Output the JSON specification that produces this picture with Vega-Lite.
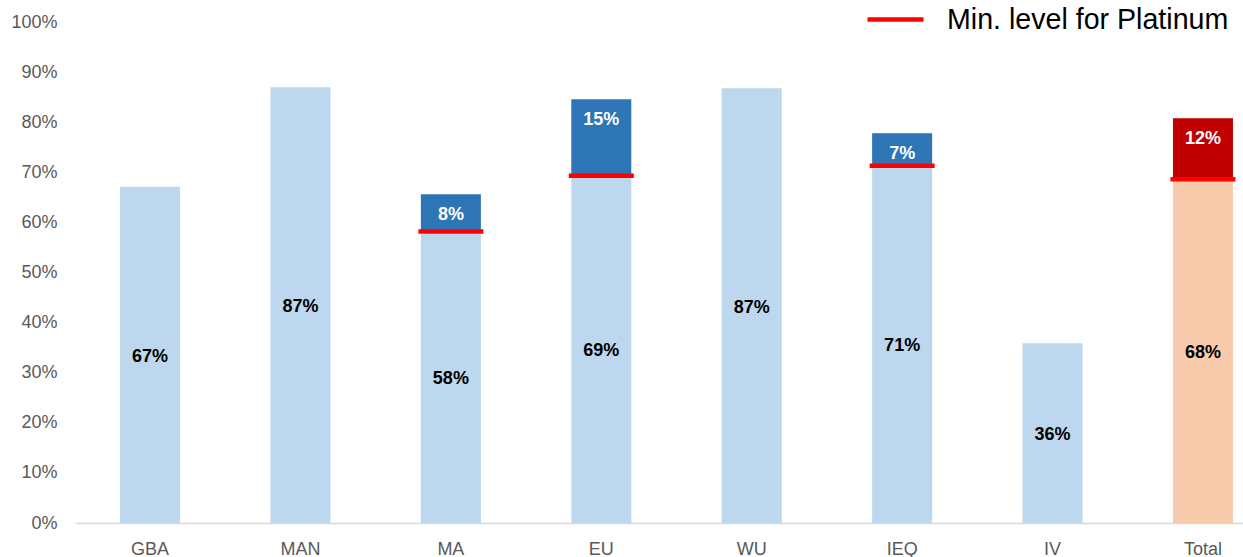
{
  "$schema": "https://vega.github.io/schema/vega-lite/v6.json",
  "autosize": "none",
  "padding": {"left": 75, "top": 22, "right": 0, "bottom": 34},
  "width": 1168,
  "height": 501,
  "background": "white",
  "config": {
    "view": {"stroke": null},
    "font": "Liberation Sans",
    "axis": {"labelFont": "Liberation Sans", "labelFontSize": 18, "labelColor": "#595959", "ticks": false, "grid": false, "title": null},
    "scale": {"bandPaddingInner": 0.601, "bandPaddingOuter": 0.183}
  },
  "data": {
    "values": [
      {"cat": "GBA", "kind": "credit", "base": 0.671, "baseLabel": "67%", "top": null, "topLabel": null, "min": null},
      {"cat": "MAN", "kind": "credit", "base": 0.870, "baseLabel": "87%", "top": null, "topLabel": null, "min": null},
      {"cat": "MA", "kind": "credit", "base": 0.582, "baseLabel": "58%", "top": 0.656, "topLabel": "8%", "min": 0.582},
      {"cat": "EU", "kind": "credit", "base": 0.693, "baseLabel": "69%", "top": 0.846, "topLabel": "15%", "min": 0.693},
      {"cat": "WU", "kind": "credit", "base": 0.868, "baseLabel": "87%", "top": null, "topLabel": null, "min": null},
      {"cat": "IEQ", "kind": "credit", "base": 0.713, "baseLabel": "71%", "top": 0.778, "topLabel": "7%", "min": 0.713},
      {"cat": "IV", "kind": "credit", "base": 0.359, "baseLabel": "36%", "top": null, "topLabel": null, "min": null},
      {"cat": "Total", "kind": "total", "base": 0.686, "baseLabel": "68%", "top": 0.808, "topLabel": "12%", "min": 0.686}
    ]
  },
  "encoding": {
    "x": {
      "field": "cat", "type": "nominal", "sort": null,
      "scale": {"align": 0.818},
      "axis": {"labelAngle": 0, "labelPadding": 17, "domainColor": "#d9d9d9", "domainWidth": 1.5}
    }
  },
  "layer": [
    {
      "mark": {"type": "bar"},
      "encoding": {
        "y": {"field": "base", "type": "quantitative", "scale": {"domain": [0, 1]},
          "axis": {"format": ".0%", "values": [0, 0.1, 0.2, 0.3, 0.4, 0.5, 0.6, 0.7, 0.8, 0.9, 1], "domain": false, "labelPadding": 18}},
        "color": {"field": "kind", "type": "nominal", "scale": {"domain": ["credit", "total"], "range": ["#bdd7ee", "#f8cbad"]}, "legend": null}
      }
    },
    {
      "transform": [{"filter": "datum.top != null"}],
      "mark": {"type": "bar"},
      "encoding": {
        "y": {"field": "base", "type": "quantitative"},
        "y2": {"field": "top"},
        "color": {"field": "kind", "type": "nominal", "scale": {"domain": ["credit", "total"], "range": ["#2e75b6", "#c00000"]}, "legend": null}
      }
    },
    {
      "transform": [{"filter": "datum.min != null"}],
      "mark": {"type": "tick", "size": 65, "thickness": 4.5, "opacity": 1},
      "encoding": {
        "y": {"field": "min", "type": "quantitative"},
        "color": {
          "datum": "Min. level for Platinum",
          "scale": {"range": ["#ff0000"]},
          "legend": {
            "title": null, "orient": "none", "legendX": 790, "legendY": -33, "padding": 0, "offset": 0,
            "symbolType": "stroke", "symbolSize": 3136, "symbolStrokeWidth": 4.5, "symbolStrokeColor": "#ff0000",
            "labelFontSize": 28.6, "labelFont": "Liberation Sans", "labelColor": "#000000", "labelOffset": 21, "labelLimit": 400
          }
        }
      }
    },
    {
      "transform": [{"calculate": "datum.base / 2", "as": "mid"}],
      "mark": {"type": "text", "fontSize": 18, "fontWeight": "bold", "color": "#000000", "baseline": "middle", "dy": 2},
      "encoding": {
        "y": {"field": "mid", "type": "quantitative"},
        "text": {"field": "baseLabel"}
      }
    },
    {
      "transform": [{"filter": "datum.top != null"}],
      "mark": {"type": "text", "fontSize": 18, "fontWeight": "bold", "color": "#ffffff", "baseline": "middle", "dy": 21},
      "encoding": {
        "y": {"field": "top", "type": "quantitative"},
        "text": {"field": "topLabel"}
      }
    }
  ],
  "resolve": {"scale": {"color": "independent"}}
}
